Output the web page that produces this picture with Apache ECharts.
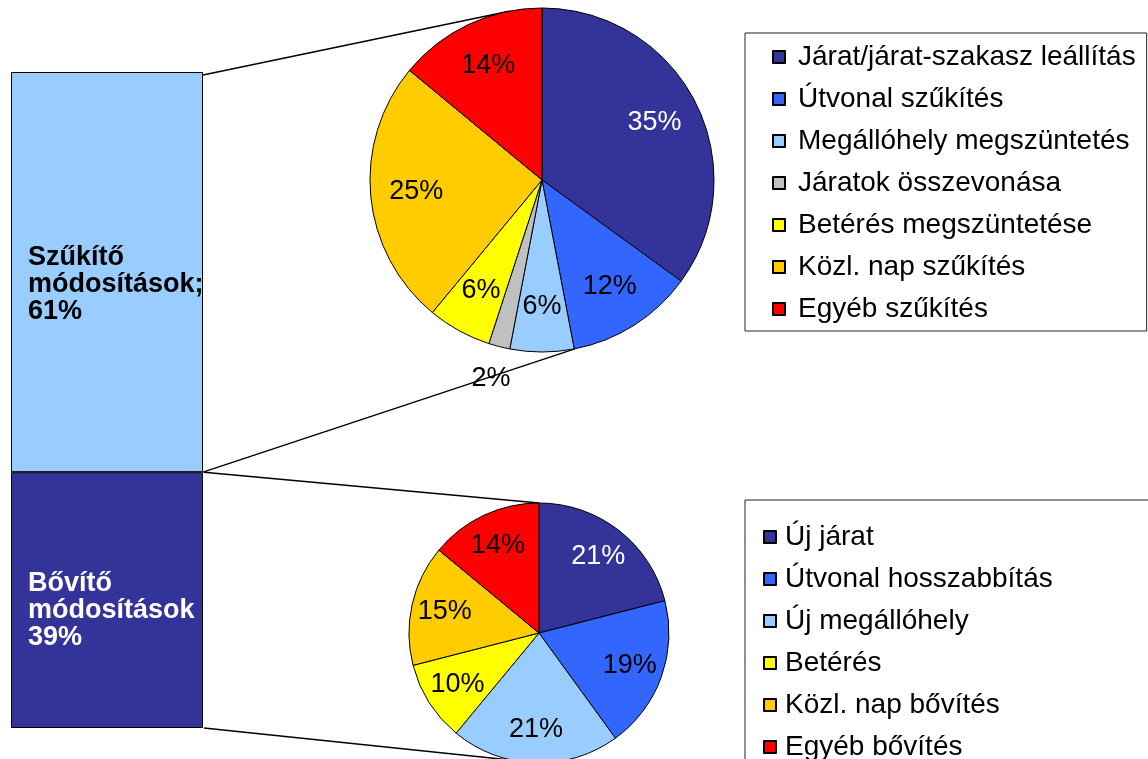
<!DOCTYPE html>
<html>
<head>
<meta charset="utf-8">
<script src="https://cdn.jsdelivr.net/npm/echarts@6/dist/echarts.min.js"></script>
<style>
html, body { margin: 0; background: #fff; }
#main { width: 1148px; height: 759px; }
</style>
</head>
<body>
<div id="main"></div>
<script>
// bal oldali oszlop (alulról felfelé)
var barNames = ['Bővítő módosítások', 'Szűkítő módosítások'];
var barLabels = ['Bővítő\nmódosítások', 'Szűkítő\nmódosítások;'];
var barValues = [39, 61];

// szűkítő módosítások megoszlása
var szukitoNames = ['Járat/járat-szakasz leállítás', 'Útvonal szűkítés', 'Megállóhely megszüntetés',
    'Járatok összevonása', 'Betérés megszüntetése', 'Közl. nap szűkítés', 'Egyéb szűkítés'];
var szukitoValues = [35, 12, 6, 2, 6, 25, 14];

// bővítő módosítások megoszlása
var bovitoNames = ['Új járat', 'Útvonal hosszabbítás', 'Új megállóhely', 'Betérés',
    'Közl. nap bővítés', 'Egyéb bővítés'];
var bovitoValues = [21, 19, 21, 10, 15, 14];

var barColors = ['#333399', '#99CCFF'];
var szukitoColors = ['#333399', '#3366FF', '#99CCFF', '#C0C0C0', '#FFFF00', '#FFCC00', '#FF0000'];
var bovitoColors = ['#333399', '#3366FF', '#99CCFF', '#FFFF00', '#FFCC00', '#FF0000'];

var FONT = "'Liberation Sans', Arial, sans-serif";

// elrendezés
var grid = {left: 11, top: 72, width: 192, height: 656};
var topCenter = [542, 180], topR = 172;
var botCenter = [539, 633], botR = 130;

var chart = echarts.init(document.getElementById('main'));

function pieData(names, values, colors) {
    return names.map(function (n, i) {
        var d = {name: n, value: values[i], itemStyle: {color: colors[i]}};
        if (i === 0) d.label = {color: '#fff'};
        return d;
    });
}

//címkék kijjebb tolása a középponttól
function pushLabels(center, values) {
    return function (p) {
        var r = p.labelRect;
        var mx = r.x + r.width / 2, my = r.y + r.height / 2;
        var k = values[p.dataIndex] < 3 ? 2.3 : 1.42;
        return {
            x: center[0] + (mx - center[0]) * k,
            y: center[1] + (my - center[1]) * k,
            align: 'center',
            verticalAlign: 'middle'
        };
    };
}

function pt(c, r, deg) {
    var a = deg * Math.PI / 180;
    return [c[0] + r * Math.sin(a), c[1] - r * Math.cos(a)];
}

var barRight = grid.left + grid.width;
var barTop = grid.top;
var barSplit = grid.top + grid.height * barValues[1] / 100;
var barBottom = grid.top + grid.height;

var p1 = pt(topCenter, topR, -11), p2 = pt(topCenter, topR, 169);
var p3 = pt(botCenter, botR, 0), p4 = pt(botCenter, botR, 180);

function line(x1, y1, x2, y2) {
    return {
        type: 'line', z: 0,
        shape: {x1: x1, y1: y1, x2: x2, y2: y2},
        style: {stroke: '#000', lineWidth: 1.5}
    };
}

var legendBase = {
    orient: 'vertical',
    icon: 'rect',
    itemWidth: 12,
    itemHeight: 12,
    itemGap: 14,
    borderColor: '#222',
    borderWidth: 1,
    selectedMode: false
};

var option = {
    animation: false,
    backgroundColor: '#fff',
    grid: grid,
    xAxis: {type: 'category', data: ['Módosítások'], show: false},
    yAxis: {type: 'value', min: 0, max: 100, show: false},
    legend: [
        Object.assign({}, legendBase, {
            data: szukitoNames,
            left: 745, top: 33,
            padding: [10, 11, 8, 27],
            textStyle: {fontSize: 28, lineHeight: 27, color: '#000', fontFamily: FONT, padding: [0, 0, 0, 8]}
        }),
        Object.assign({}, legendBase, {
            data: bovitoNames,
            left: 745, top: 500, height: 330,
            padding: [23, 110, 40, 18],
            textStyle: {fontSize: 28, lineHeight: 27, color: '#000', fontFamily: FONT, padding: [0, 0, 0, 4]}
        })
    ],
    graphic: [
        line(barRight, barTop + 3, p1[0], p1[1]),
        line(barRight, barSplit, p2[0], p2[1]),
        line(barRight + 1, barSplit, p3[0], p3[1]),
        line(barRight + 1, barBottom, p4[0], p4[1])
    ],
    series: [
        {
            name: barNames[0],
            type: 'bar',
            stack: 'total',
            barWidth: '100%',
            data: [barValues[0]],
            itemStyle: {color: barColors[0], borderColor: '#000', borderWidth: 1},
            label: {
                show: true, position: 'insideLeft', distance: 17, offset: [0, 10],
                color: '#fff', fontSize: 27, lineHeight: 27, fontWeight: 'bold', fontFamily: FONT,
                formatter: function (p) { return barLabels[0] + '\n' + p.value + '%'; }
            }
        },
        {
            name: barNames[1],
            type: 'bar',
            stack: 'total',
            barWidth: '100%',
            data: [barValues[1]],
            itemStyle: {color: barColors[1], borderColor: '#000', borderWidth: 1},
            label: {
                show: true, position: 'insideLeft', distance: 17, offset: [0, 12],
                color: '#000', fontSize: 27, lineHeight: 27, fontWeight: 'bold', fontFamily: FONT,
                formatter: function (p) { return barLabels[1] + '\n' + p.value + '%'; }
            }
        },
        {
            name: 'Szűkítő',
            type: 'pie',
            center: topCenter,
            radius: topR,
            startAngle: 90,
            data: pieData(szukitoNames, szukitoValues, szukitoColors),
            itemStyle: {borderColor: '#000', borderWidth: 1},
            label: {
                show: true, position: 'inside', formatter: '{c}%',
                color: '#000', fontSize: 27, fontFamily: FONT
            },
            labelLine: {show: false},
            labelLayout: pushLabels(topCenter, szukitoValues),
            emphasis: {scale: false}
        },
        {
            name: 'Bővítő',
            type: 'pie',
            center: botCenter,
            radius: botR,
            startAngle: 90,
            data: pieData(bovitoNames, bovitoValues, bovitoColors),
            itemStyle: {borderColor: '#000', borderWidth: 1},
            label: {
                show: true, position: 'inside', formatter: '{c}%',
                color: '#000', fontSize: 27, fontFamily: FONT
            },
            labelLine: {show: false},
            labelLayout: pushLabels(botCenter, bovitoValues),
            emphasis: {scale: false}
        }
    ]
};

chart.setOption(option);
</script>
</body>
</html>
